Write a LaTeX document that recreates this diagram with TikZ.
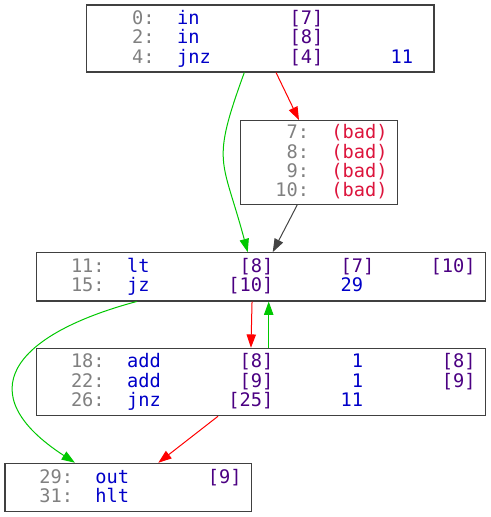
\documentclass[tikz,border=0pt]{standalone}
\usepackage{fontspec}
\setmonofont{DejaVu Sans Mono}
\usetikzlibrary{arrows.meta}

\definecolor{addrgray}{HTML}{808080}
\definecolor{opblue}{HTML}{0000C8}
\definecolor{argpurple}{HTML}{4B0082}
\definecolor{badred}{HTML}{DC143C}
\definecolor{takengreen}{HTML}{00C800}
\definecolor{fallred}{HTML}{FF0000}
\definecolor{plaingray}{HTML}{444444}

\begin{document}
\begin{tikzpicture}[x=0.75pt, y=0.75pt, >={Triangle[length=10pt,width=7pt]},
    block/.style={draw=black!75, line width=0.8pt, inner sep=0pt},
    row/.style={anchor=base west, inner sep=0pt, font=\ttfamily\fontsize{14}{16}\selectfont},
    every path/.style={line width=0.75pt}]
    \useasboundingbox (0, 0) rectangle (491, 517);

    % Blocks
    \node at (260.3, 478.5) [block, minimum width=260.5pt, minimum height=50.25pt] (b0) {};
    \node at (319, 354.5) [block, minimum width=117.5pt, minimum height=62.7pt] (b7) {};
    \node at (260.7, 240.15) [block, minimum width=337pt, minimum height=36.2pt] (b11) {};
    \node at (260.7, 135) [block, minimum width=337pt, minimum height=50.55pt] (b18) {};
    \node at (128.3, 29.5) [block, minimum width=185pt, minimum height=36.3pt] (b29) {};

    % Instructions
    \node at (120.5, 492.3) [row] (r0) {\textcolor{addrgray}{~0:}~~\textcolor{opblue}{in}~~~~~~~~\textcolor{argpurple}{[7]}};
    \node at (120.5, 473) [row] (r2) {\textcolor{addrgray}{~2:}~~\textcolor{opblue}{in}~~~~~~~~\textcolor{argpurple}{[8]}};
    \node at (120.5, 453.7) [row] (r4) {\textcolor{addrgray}{~4:}~~\textcolor{opblue}{jnz}~~~~~~~\textcolor{argpurple}{[4]}~~~~~~\textcolor{opblue}{11}};

    \node at (274.8, 378) [row] (r7) {\textcolor{addrgray}{~7:}~~\textcolor{badred}{(bad)}};
    \node at (274.8, 358.7) [row] (r8) {\textcolor{addrgray}{~8:}~~\textcolor{badred}{(bad)}};
    \node at (274.8, 339.7) [row] (r9) {\textcolor{addrgray}{~9:}~~\textcolor{badred}{(bad)}};
    \node at (274.8, 320.3) [row] (r10) {\textcolor{addrgray}{10:}~~\textcolor{badred}{(bad)}};

    \node at (70.5, 244.7) [row] (r11) {\textcolor{addrgray}{11:}~~\textcolor{opblue}{lt}~~~~~~~~\textcolor{argpurple}{[8]}~~~~~~\textcolor{argpurple}{[7]}~~~~~\textcolor{argpurple}{[10]}};
    \node at (70.5, 225.3) [row] (r15) {\textcolor{addrgray}{15:}~~\textcolor{opblue}{jz}~~~~~~~\textcolor{argpurple}{[10]}~~~~~~\textcolor{opblue}{29}};

    \node at (70.5, 149.3) [row] (r18) {\textcolor{addrgray}{18:}~~\textcolor{opblue}{add}~~~~~~~\textcolor{argpurple}{[8]}~~~~~~~\textcolor{opblue}{1}~~~~~~~\textcolor{argpurple}{[8]}};
    \node at (70.5, 129.7) [row] (r22) {\textcolor{addrgray}{22:}~~\textcolor{opblue}{add}~~~~~~~\textcolor{argpurple}{[9]}~~~~~~~\textcolor{opblue}{1}~~~~~~~\textcolor{argpurple}{[9]}};
    \node at (70.5, 110.3) [row] (r26) {\textcolor{addrgray}{26:}~~\textcolor{opblue}{jnz}~~~~~~\textcolor{argpurple}{[25]}~~~~~~\textcolor{opblue}{11}};

    \node at (38.8, 33.7) [row] (r29) {\textcolor{addrgray}{29:}~~\textcolor{opblue}{out}~~~~~~~\textcolor{argpurple}{[9]}};
    \node at (38.8, 14.7) [row] (r31) {\textcolor{addrgray}{31:}~~\textcolor{opblue}{hlt}};

    % Jumps taken
    \draw[->, takengreen] ([xshift=-12pt]b0.south) to[out=250, in=105, looseness=1.4] ([xshift=-9.75pt]b11.north);
    \draw[->, takengreen] ([xshift=6pt]b18.north) to ([xshift=6pt]b11.south);
    \draw[->, takengreen] ([xshift=-93pt]b11.south) to[out=195, in=147, looseness=1.9] ([xshift=-40pt]b29.north);

    % Fall through
    \draw[->, fallred] ([xshift=11.8pt]b0.south) to ([xshift=-15pt]b7.north);
    \draw[->, fallred] ([xshift=-6.5pt]b11.south) to ([xshift=-7.3pt]b18.north);
    \draw[->, fallred] ([xshift=-32pt]b18.south) to ([xshift=22.5pt]b29.north);
    \draw[->, plaingray] ([xshift=-16.3pt]b7.south) to ([xshift=9pt]b11.north);
\end{tikzpicture}
\end{document}
